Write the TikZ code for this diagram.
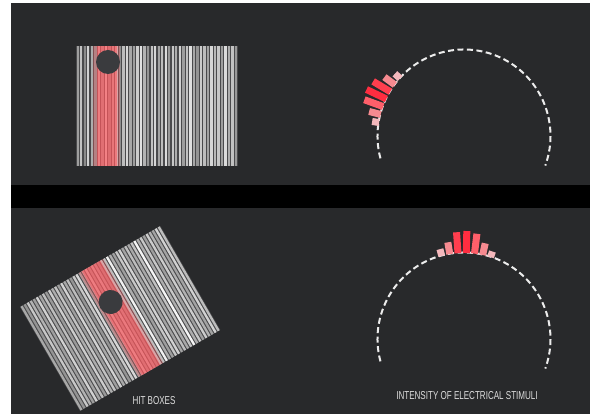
\documentclass[tikz,border=0pt]{standalone}
\usepackage{fontspec}
\newfontfamily\capfont[FakeStretch=0.7]{Liberation Sans}
\usetikzlibrary{positioning}
\definecolor{hbpanel}{RGB}{40,41,43}
\definecolor{hbgap}{RGB}{74,74,76}
\definecolor{hbred}{RGB}{255,88,94}
\definecolor{hbdot}{RGB}{58,59,62}
\definecolor{hbdash}{RGB}{236,236,236}
\definecolor{hbtext}{RGB}{222,222,222}
\definecolor{hbpale}{RGB}{244,184,188}
\definecolor{hbpink}{RGB}{246,138,144}
\definecolor{hbsalmon}{RGB}{255,95,106}
\definecolor{hbredA}{RGB}{255,62,78}
\definecolor{hbredB}{RGB}{255,45,64}
\tikzset{
  dialarc/.style={hbdash,line width=2pt,dash pattern=on 6pt off 3.5pt},
  stimbar/.style={line width=7pt},
  caption/.style={text=hbtext,inner sep=0pt,font=\capfont\fontsize{11.5}{13}\selectfont}
}

\begin{document}
\begin{tikzpicture}[x=1pt,y=-1pt]
  \useasboundingbox (0,0) rectangle (590,414);
  % panels
  \fill[white] (0,0) rectangle (590,414);
  \fill[hbpanel] (11,3) rectangle (590,185);
  \fill[black] (11,185) rectangle (590,208);
  \fill[hbpanel] (11,208) rectangle (590,414);
  % hit boxes, upright
  \begin{scope}[shift={(76,46)}]
    \fill[hbgap] (0,0) rectangle (162,120);
    \foreach \g [count=\i from 0] in {62,76,54,82,68,58,80,64,86,60,72,78,56,74,84,66,62,80,88,70,58,76,84,64,74,86,60,78,68,82,62,76,88,66,58,80,74,64,84,72,78,62,86,68,76,60} {
      \pgfmathsetmacro\sx{0.6+\i*3.52}
      \fill[white!\g!black] (\sx,0) rectangle ++(2.3,120);
    }
    \fill[hbred,opacity=0.3] (17,0) rectangle (44,120);
    \fill[hbred,opacity=0.55] (20.5,0) rectangle (40.5,120);
    \fill[hbdot] (32,16) circle (12);
  \end{scope}
  % hit boxes, turned
  \begin{scope}[shift={(20,307)},rotate=30]
    \fill[hbgap] (0,0) rectangle (162,120);
    \foreach \g [count=\i from 0] in {66,58,78,70,62,82,64,74,60,80,68,76,62,82,66,74,58,78,84,64,70,80,62,76,66,60,78,74,94,68,62,78,82,64,74,66,76,96,68,78,62,80,70,64,82,74} {
      \pgfmathsetmacro\sx{0.6+\i*3.52}
      \fill[white!\g!black] (\sx,0) rectangle ++(2.3,120);
    }
    \fill[hbred,opacity=0.3] (68,0) rectangle (96,120);
    \fill[hbred,opacity=0.55] (71.5,0) rectangle (92.5,120);
    \fill[hbdot] (81,41) circle (12);
  \end{scope}
  % intensity dials
  \coordinate (topdial) at (464,136);
  \coordinate (botdial) at (464,339);
  \draw[dialarc] (topdial) ++(165:86.5) arc[start angle=165,end angle=380,radius=86.5];
  \draw[dialarc] (botdial) ++(165:86.5) arc[start angle=165,end angle=380,radius=86.5];
  \foreach \a/\l/\c in {-138/7/hbpale,-143.5/13/hbpink,-149/20/hbredA,-154.5/22/hbredB,-160/20/hbsalmon,-165.5/12/hbpink,-171/7/hbpale} {
    \draw[stimbar,\c] (topdial) ++(\a:86) -- ++(\a:\l);
  }
  \foreach \a/\l/\c in {-105/7/hbpale,-99.5/12/hbpink,-94/21/hbredA,-88.5/22/hbredB,-83/20/hbsalmon,-77.5/12/hbpink,-72/6/hbpale} {
    \draw[stimbar,\c] (botdial) ++(\a:86) -- ++(\a:\l);
  }
  % labels
  \node[caption] (hitlabel) at (154,401) {HIT BOXES};
  \node[caption] (stimlabel) at (467,396) {INTENSITY OF ELECTRICAL STIMULI};
\end{tikzpicture}
\end{document}
